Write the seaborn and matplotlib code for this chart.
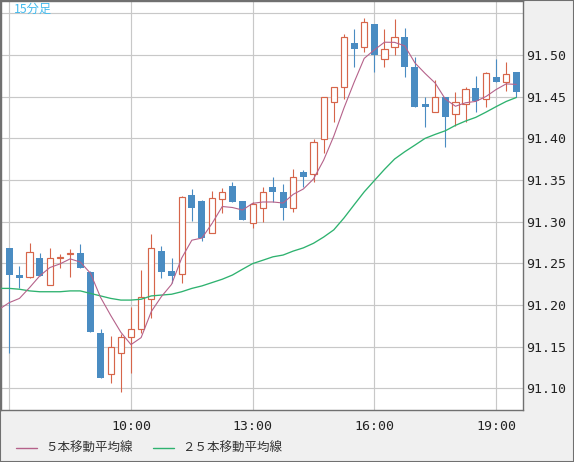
import matplotlib
matplotlib.use("Agg")
import matplotlib.pyplot as plt
import seaborn as sns
import numpy as np
import pandas as pd
from matplotlib.lines import Line2D
from matplotlib.patches import Rectangle

# ---------------- data (15-minute candles, 07:00 .. 19:30) ----------------
opens = [91.268, 91.236, 91.234, 91.257, 91.224, 91.256, 91.261, 91.262, 91.240, 91.167,
         91.117, 91.143, 91.162, 91.171, 91.207, 91.265, 91.241, 91.237, 91.332, 91.325,
         91.286, 91.327, 91.343, 91.325, 91.299, 91.317, 91.341, 91.336, 91.317, 91.360,
         91.357, 91.399, 91.444, 91.461, 91.514, 91.510, 91.537, 91.495, 91.509, 91.521,
         91.485, 91.441, 91.431, 91.449, 91.429, 91.441, 91.460, 91.447, 91.473, 91.467,
         91.479]
highs = [91.268, 91.247, 91.275, 91.263, 91.269, 91.261, 91.267, 91.273, 91.241, 91.171,
         91.163, 91.165, 91.198, 91.242, 91.285, 91.271, 91.256, 91.331, 91.339, 91.326,
         91.337, 91.340, 91.348, 91.325, 91.324, 91.341, 91.354, 91.345, 91.363, 91.362,
         91.399, 91.449, 91.461, 91.525, 91.531, 91.544, 91.537, 91.531, 91.543, 91.532,
         91.497, 91.449, 91.470, 91.449, 91.456, 91.461, 91.475, 91.479, 91.495, 91.492,
         91.479]
lows = [91.143, 91.221, 91.233, 91.235, 91.224, 91.245, 91.234, 91.245, 91.168, 91.112,
        91.106, 91.096, 91.118, 91.167, 91.185, 91.233, 91.227, 91.226, 91.301, 91.277,
        91.286, 91.311, 91.323, 91.302, 91.293, 91.300, 91.323, 91.302, 91.312, 91.341,
        91.347, 91.382, 91.420, 91.447, 91.486, 91.504, 91.480, 91.485, 91.500, 91.474,
        91.438, 91.413, 91.431, 91.389, 91.415, 91.419, 91.431, 91.438, 91.467, 91.457,
        91.449]
closes = [91.236, 91.233, 91.264, 91.235, 91.257, 91.258, 91.263, 91.245, 91.168, 91.112,
          91.150, 91.162, 91.171, 91.210, 91.268, 91.240, 91.235, 91.329, 91.317, 91.281,
          91.328, 91.336, 91.323, 91.302, 91.321, 91.336, 91.336, 91.317, 91.354, 91.353,
          91.396, 91.449, 91.461, 91.522, 91.507, 91.540, 91.500, 91.507, 91.521, 91.486,
          91.438, 91.437, 91.449, 91.425, 91.443, 91.459, 91.445, 91.478, 91.467, 91.477,
          91.456]

# moving-average values read from the chart where earlier bars are off-screen
# (index -1 .. 3 for the 5-bar MA, index -1 .. 23 for the 25-bar MA)
ma5_head = [91.195, 91.203, 91.208, 91.221, 91.235]
ma25_head = [91.220, 91.220, 91.219, 91.217, 91.216, 91.216, 91.216, 91.217, 91.217,
             91.214, 91.211, 91.208, 91.206, 91.206, 91.207, 91.211, 91.212, 91.213,
             91.216, 91.220, 91.223, 91.227, 91.231, 91.236, 91.243]

xtick_labels = ["", "10:00", "13:00", "16:00", "19:00"]
xtick_bars = [0, 12, 24, 36, 48]
ytick_values = [91.10, 91.15, 91.20, 91.25, 91.30, 91.35, 91.40, 91.45, 91.50, 91.55]
title_text = "15分足"
legend_labels = ["５本移動平均線", "２５本移動平均線"]

# ---------------- styling ----------------
UP = "#d6654a"
DOWN = "#4a8cc2"
MA5_C = "#b5628a"
MA25_C = "#2eb26f"
GRID = "#c8c8c8"
FRAME = "#707070"
PANEL = "#f0f0f0"

sns.set_theme(style="white")
plt.rcParams["font.family"] = ["DejaVu Sans Mono"]

W, H = 574, 462
fig = plt.figure(figsize=(W / 100, H / 100), dpi=100, facecolor=PANEL)
ax = fig.add_axes([1 / W, (H - 410) / H, 522 / W, 409 / H])
ax.set_facecolor("white")

df = pd.DataFrame({"o": opens, "h": highs, "l": lows, "c": closes})
df["i"] = np.arange(len(df))
up = df[df.c >= df.o]
dn = df[df.c < df.o]

# wicks
ax.vlines(up.i, up.l, up.h, color=UP, lw=0.8, zorder=2)
ax.vlines(dn.i, dn.l, dn.h, color=DOWN, lw=0.8, zorder=2)
# bodies
ax.bar(dn.i, dn.o - dn.c, bottom=dn.c, width=0.69, color=DOWN, linewidth=0, zorder=3)
ax.bar(up.i, np.maximum(up.c - up.o, 0.0004), bottom=up.o, width=0.62,
       facecolor="white", edgecolor=UP, linewidth=0.85, zorder=3)

# moving averages
ma5 = pd.Series(closes).rolling(5).mean().to_numpy()
ma25 = pd.Series(closes).rolling(25).mean().to_numpy()
ma5_full = np.concatenate([ma5_head, ma5[4:]])
ma25_full = np.concatenate([ma25_head, ma25[24:]])
ma_df = pd.DataFrame({"i": np.arange(-1, len(closes)), "ma5": ma5_full, "ma25": ma25_full})
sns.lineplot(data=ma_df, x="i", y="ma25", color=MA25_C, lw=0.95, ax=ax, zorder=4)
sns.lineplot(data=ma_df, x="i", y="ma5", color=MA5_C, lw=0.8, ax=ax, zorder=5)

# axes
ax.set_xlim(-0.82, 50.66)
ax.set_ylim(91.0742, 91.5646)
ax.set_xticks(xtick_bars)
ax.set_xticklabels(xtick_labels)
ax.set_yticks(ytick_values)
ax.set_yticklabels([f"{v:.2f}" if v < 91.54 else "" for v in ytick_values])
ax.yaxis.tick_right()
ax.set_xlabel("")
ax.set_ylabel("")
ax.grid(True, color=GRID, lw=0.85)
ax.set_axisbelow(True)
ax.tick_params(axis="y", length=0, pad=2, labelsize=9.5, labelcolor="#222222")
ax.tick_params(axis="x", length=0, pad=7, labelsize=9.5, labelcolor="#222222")
for s in ax.spines.values():
    s.set_color(FRAME)
    s.set_linewidth(1.0)

# small title inside the plot
fig.text(14 / W, 1 - 9.5 / H, title_text, color="#44bbee", fontsize=8.8, ha="left",
         va="center", family=["Noto Sans CJK JP", "DejaVu Sans"])

# legend
ly = 1 - 448 / H
for (x0, x1, tx), lab, col in zip([(16, 37, 45), (153, 174, 182)], legend_labels,
                                  [MA5_C, MA25_C]):
    fig.add_artist(Line2D([x0 / W, x1 / W], [ly, ly], color=col, lw=1.0,
                          transform=fig.transFigure))
    fig.text(tx / W, ly, lab, fontsize=9, ha="left", va="center", color="#333333",
             family=["Noto Sans CJK JP", "DejaVu Sans"])

# outer frame
fig.add_artist(Rectangle((0, 0), 1, 1, transform=fig.transFigure, fill=False,
                         edgecolor=FRAME, lw=1.5))

fig.savefig("out.png", dpi=100, facecolor=PANEL)
